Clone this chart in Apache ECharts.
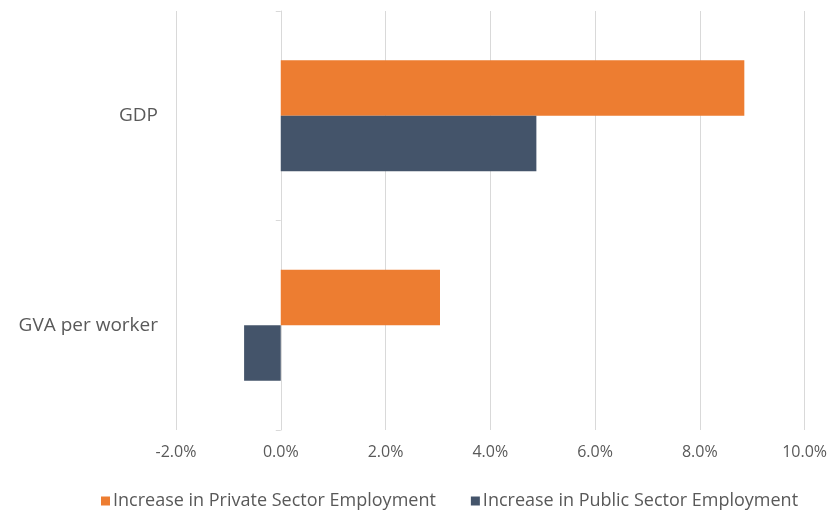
<!DOCTYPE html>
<html>
<head>
<meta charset="utf-8">
<script src="https://cdn.jsdelivr.net/npm/echarts@6/dist/echarts.min.js"></script>
<style>
  html, body { margin: 0; padding: 0; background: #fff; }
  #chart { width: 830px; height: 510px; }
</style>
</head>
<body>
<div id="chart"></div>
<script>
const categories = ['GDP', 'GVA per worker']
const seriesNames = ['Increase in Private Sector Employment', 'Increase in Public Sector Employment']
const privateValues = [8.85, 3.04]
const publicValues = [4.88, -0.70]
const colors = ['#ED7D31', '#44546A']

const textColor = '#595959'
const lineColor = '#d9d9d9'
const fontFamily = 'Open Sans'

const chart = echarts.init(document.getElementById('chart'))
chart.setOption({
  backgroundColor: '#ffffff',
  animation: false,
  grid: {
    left: 176,
    right: 23,
    top: 11,
    bottom: 80
  },
  legend: {
    top: 487,
    left: 96,
    icon: 'rect',
    itemWidth: 9,
    itemHeight: 9,
    itemGap: 35,
    textStyle: { color: textColor, fontSize: 18, fontFamily: fontFamily, padding: [0, 0, 0, -2] },
    data: seriesNames
  },
  xAxis: {
    type: 'value',
    min: -2,
    max: 10,
    interval: 2,
    axisLine: { show: false },
    axisTick: { show: false },
    axisLabel: {
      color: textColor,
      fontSize: 16,
      fontFamily: fontFamily,
      margin: 14,
      formatter: v => v.toFixed(1) + '%'
    },
    splitLine: { lineStyle: { color: lineColor, width: 1 } }
  },
  yAxis: [{
    type: 'category',
    inverse: true,
    position: 'left',
    data: categories,
    axisLine: { show: false, onZero: false },
    axisTick: { show: false },
    axisLabel: { color: textColor, fontSize: 19, fontFamily: fontFamily, margin: 18 }
  }, {
    type: 'category',
    inverse: true,
    position: 'left',
    data: categories,
    axisLine: { show: true, onZero: true, lineStyle: { color: lineColor } },
    axisTick: { show: true, length: 5, lineStyle: { color: lineColor } },
    axisLabel: { show: false }
  }],
  series: [{
    name: seriesNames[0],
    type: 'bar',
    yAxisIndex: 0,
    data: privateValues,
    itemStyle: { color: colors[0] },
    barGap: 0,
    barCategoryGap: '47%'
  }, {
    name: seriesNames[1],
    type: 'bar',
    yAxisIndex: 0,
    data: publicValues,
    itemStyle: { color: colors[1] },
    barGap: 0,
    barCategoryGap: '47%'
  }]
})
</script>
</body>
</html>
